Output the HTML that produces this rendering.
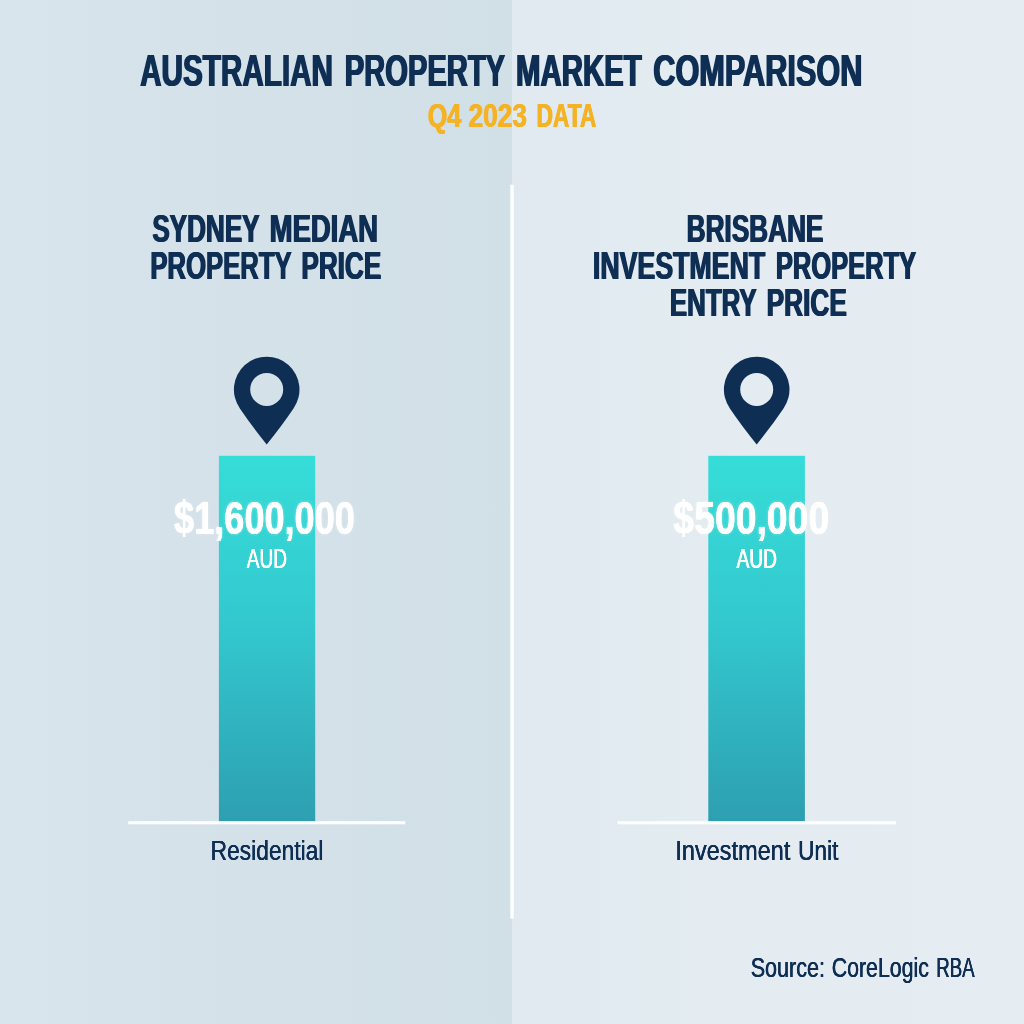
<!DOCTYPE html>
<html lang="en">
<head>
<meta charset="utf-8">
<title>Australian Property Market Comparison</title>
<style>
html,body{margin:0;padding:0;background:#d5e2ea;}
body{width:1024px;height:1024px;overflow:hidden;}
svg{display:block;font-family:'Liberation Sans',sans-serif;}
</style>
</head>
<body>
<svg width="1024" height="1024" viewBox="0 0 1024 1024">
<defs>
<linearGradient id="bar" x1="0" y1="0" x2="0" y2="1">
<stop offset="0" stop-color="#36ddd8"/>
<stop offset="0.45" stop-color="#33c9cf"/>
<stop offset="1" stop-color="#2d9fb1"/>
</linearGradient>
<linearGradient id="bgl" x1="0" y1="0" x2="1" y2="0">
<stop offset="0" stop-color="#d9e5ed"/>
<stop offset="0.35" stop-color="#d5e2ea"/>
<stop offset="1" stop-color="#d1dfe7"/>
</linearGradient>
<linearGradient id="bgr" x1="0" y1="0" x2="1" y2="0">
<stop offset="0" stop-color="#e0eaf0"/>
<stop offset="0.5" stop-color="#e4ecf1"/>
<stop offset="1" stop-color="#e5edf2"/>
</linearGradient>
</defs>
<rect x="0" y="0" width="512" height="1024" fill="url(#bgl)"/>
<rect x="512" y="0" width="512" height="1024" fill="url(#bgr)"/>
<rect x="510.3" y="184.7" width="3.45" height="734" fill="#ffffff"/>

<text y="85.80" font-size="44.48" font-weight="bold" fill="#0f2e54" style="text-shadow:1.05px 0 0 #0f2e54,-1.05px 0 0 #0f2e54"><tspan x="140.13" textLength="192.88" lengthAdjust="spacingAndGlyphs">AUSTRALIAN</tspan> <tspan x="344.70" textLength="159.90" lengthAdjust="spacingAndGlyphs">PROPERTY</tspan> <tspan x="516.07" textLength="125.60" lengthAdjust="spacingAndGlyphs">MARKET</tspan> <tspan x="653.29" textLength="209.11" lengthAdjust="spacingAndGlyphs">COMPARISON</tspan></text>
<text y="126.60" font-size="32.85" font-weight="bold" fill="#f5b324" style="text-shadow:0.55px 0 0 #f5b324,-0.55px 0 0 #f5b324"><tspan x="427.72" textLength="33.55" lengthAdjust="spacingAndGlyphs">Q4</tspan> <tspan x="468.55" textLength="58.41" lengthAdjust="spacingAndGlyphs">2023</tspan> <tspan x="536.51" textLength="59.96" lengthAdjust="spacingAndGlyphs">DATA</tspan></text>
<text y="241.80" font-size="38.08" font-weight="bold" fill="#0f2e54" style="text-shadow:0.9px 0 0 #0f2e54,-0.9px 0 0 #0f2e54"><tspan x="152.28" textLength="106.90" lengthAdjust="spacingAndGlyphs">SYDNEY</tspan> <tspan x="269.65" textLength="108.39" lengthAdjust="spacingAndGlyphs">MEDIAN</tspan></text>
<text y="279.20" font-size="38.08" font-weight="bold" fill="#0f2e54" style="text-shadow:0.9px 0 0 #0f2e54,-0.9px 0 0 #0f2e54"><tspan x="150.35" textLength="140.82" lengthAdjust="spacingAndGlyphs">PROPERTY</tspan> <tspan x="301.37" textLength="79.84" lengthAdjust="spacingAndGlyphs">PRICE</tspan></text>
<text y="241.80" font-size="38.08" font-weight="bold" fill="#0f2e54" style="text-shadow:0.9px 0 0 #0f2e54,-0.9px 0 0 #0f2e54"><tspan x="686.67" textLength="136.77" lengthAdjust="spacingAndGlyphs">BRISBANE</tspan></text>
<text y="279.20" font-size="38.08" font-weight="bold" fill="#0f2e54" style="text-shadow:0.9px 0 0 #0f2e54,-0.9px 0 0 #0f2e54"><tspan x="592.92" textLength="172.28" lengthAdjust="spacingAndGlyphs">INVESTMENT</tspan> <tspan x="775.90" textLength="140.21" lengthAdjust="spacingAndGlyphs">PROPERTY</tspan></text>
<text y="315.80" font-size="38.08" font-weight="bold" fill="#0f2e54" style="text-shadow:0.9px 0 0 #0f2e54,-0.9px 0 0 #0f2e54"><tspan x="669.80" textLength="86.34" lengthAdjust="spacingAndGlyphs">ENTRY</tspan> <tspan x="766.64" textLength="80.16" lengthAdjust="spacingAndGlyphs">PRICE</tspan></text>
<rect x="218.9" y="455.8" width="96.3" height="366" fill="url(#bar)"/>
<rect x="708.3" y="455.8" width="96.6" height="366" fill="url(#bar)"/>
<rect x="128.2" y="821.2" width="277.1" height="3.1" fill="#ffffff"/>
<rect x="617.5" y="821.2" width="278.5" height="3.1" fill="#ffffff"/>
<path fill="#0f2e54" fill-rule="evenodd" d="M266.7,444.4 Q251.5,425.6 239.9,408.4 A32.8,32.8 0 1 1 293.5,408.4 Q281.9,425.6 266.7,444.4 Z M250.2,389.4 a16.5,16.5 0 1 0 33,0 a16.5,16.5 0 1 0 -33,0 Z"/>
<path fill="#0f2e54" fill-rule="evenodd" d="M756.7,444.4 Q741.5,425.6 729.9,408.4 A32.8,32.8 0 1 1 783.5,408.4 Q771.9,425.6 756.7,444.4 Z M740.2,389.4 a16.5,16.5 0 1 0 33,0 a16.5,16.5 0 1 0 -33,0 Z"/>
<text y="533.90" font-size="45.64" font-weight="bold" fill="#ffffff" style="text-shadow:0.3px 0 0 #ffffff,-0.3px 0 0 #ffffff,0 0 4px rgba(255,255,255,0.4)"><tspan x="174.11" textLength="180.74" lengthAdjust="spacingAndGlyphs">$1,600,000</tspan></text>
<text y="533.90" font-size="45.64" font-weight="bold" fill="#ffffff" style="text-shadow:0.3px 0 0 #ffffff,-0.3px 0 0 #ffffff,0 0 4px rgba(255,255,255,0.4)"><tspan x="673.36" textLength="155.83" lengthAdjust="spacingAndGlyphs">$500,000</tspan></text>
<text y="567.80" font-size="28.49" font-weight="normal" fill="#ffffff" style="text-shadow:0.45px 0 0 #ffffff,-0.45px 0 0 #ffffff"><tspan x="246.74" textLength="40.30" lengthAdjust="spacingAndGlyphs">AUD</tspan></text>
<text y="567.80" font-size="28.49" font-weight="normal" fill="#ffffff" style="text-shadow:0.45px 0 0 #ffffff,-0.45px 0 0 #ffffff"><tspan x="736.61" textLength="40.28" lengthAdjust="spacingAndGlyphs">AUD</tspan></text>
<text y="860.00" font-size="28.20" font-weight="normal" fill="#0f2e54" style="text-shadow:0.15px 0 0 #0f2e54,-0.15px 0 0 #0f2e54"><tspan x="210.59" textLength="112.84" lengthAdjust="spacingAndGlyphs">Residential</tspan></text>
<text y="860.00" font-size="28.49" font-weight="normal" fill="#0f2e54" style="text-shadow:0.15px 0 0 #0f2e54,-0.15px 0 0 #0f2e54"><tspan x="675.29" textLength="115.06" lengthAdjust="spacingAndGlyphs">Investment</tspan> <tspan x="798.06" textLength="40.32" lengthAdjust="spacingAndGlyphs">Unit</tspan></text>
<text y="976.70" font-size="28.05" font-weight="normal" fill="#0f2e54" style="text-shadow:0.3px 0 0 #0f2e54,-0.3px 0 0 #0f2e54"><tspan x="750.72" textLength="74.27" lengthAdjust="spacingAndGlyphs">Source:</tspan> <tspan x="831.74" textLength="97.15" lengthAdjust="spacingAndGlyphs">CoreLogic</tspan> <tspan x="936.19" textLength="38.41" lengthAdjust="spacingAndGlyphs">RBA</tspan></text>
</svg>
</body>
</html>
